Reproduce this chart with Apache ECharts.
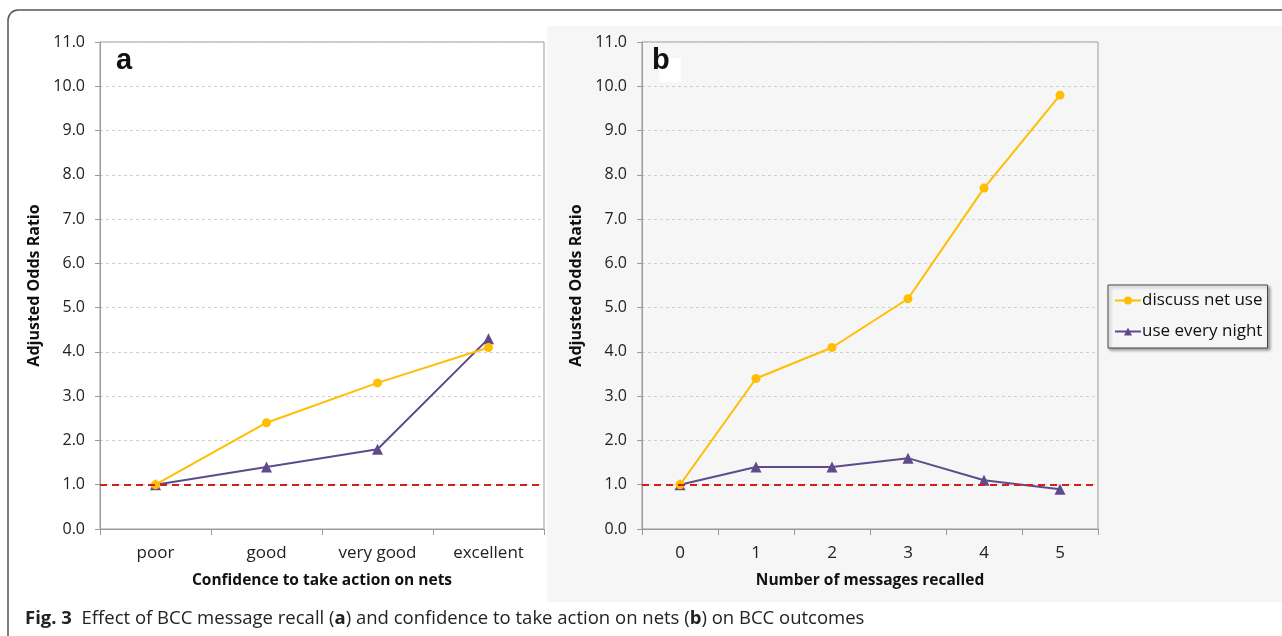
<!DOCTYPE html>
<html>
<head>
<meta charset="utf-8">
<script src="https://cdn.jsdelivr.net/npm/echarts@6/dist/echarts.min.js"></script>
<style>
  html, body { margin: 0; padding: 0; background: #fff; }
  #chart { width: 1282px; height: 636px; }
</style>
</head>
<body>
<div id="chart"></div>
<script>
  // panel a
  const confidenceCats = ['poor', 'good', 'very good', 'excellent'];
  const confDiscuss = [1.0, 2.4, 3.3, 4.1];
  const confUseNight = [1.0, 1.4, 1.8, 4.3];

  // panel b
  const messageCats = ['0', '1', '2', '3', '4', '5'];
  const msgDiscuss = [1.0, 3.4, 4.1, 5.2, 7.7, 9.8];
  const msgUseNight = [1.0, 1.4, 1.4, 1.6, 1.1, 0.9];

  const refLine = 1.0;
  const yMin = 0, yMax = 11, yStep = 1;

  const gold = '#ffbf00';
  const purple = '#5f4b8b';
  const font = '"Open Sans", "Noto Sans", sans-serif';

  const chart = echarts.init(document.getElementById('chart'));

  function xAxisFor(cats, idx, title) {
    return {
      type: 'category',
      gridIndex: idx,
      data: cats,
      boundaryGap: true,
      name: title,
      nameLocation: 'middle',
      nameGap: 44,
      nameTextStyle: { fontFamily: font, fontWeight: 'bold', fontSize: 15.5, color: '#111' },
      axisLine: { lineStyle: { color: '#9a9a9a', width: 1 } },
      axisTick: { show: true, alignWithLabel: false, length: 6, lineStyle: { color: '#9a9a9a' } },
      axisLabel: { fontFamily: font, fontSize: 17, color: '#222', margin: 16 },
      splitLine: { show: false }
    };
  }

  function yAxisFor(idx) {
    return {
      type: 'value',
      gridIndex: idx,
      min: yMin,
      max: yMax,
      interval: yStep,
      name: 'Adjusted Odds Ratio',
      nameLocation: 'middle',
      nameGap: 58,
      nameTextStyle: { fontFamily: font, fontWeight: 'bold', fontSize: 16, color: '#111' },
      axisLine: { show: true, lineStyle: { color: '#9a9a9a' } },
      axisTick: { show: true, length: 5, lineStyle: { color: '#9a9a9a' } },
      axisLabel: {
        fontFamily: font, fontSize: 16, color: '#222', margin: 15,
        formatter: v => v.toFixed(1)
      },
      splitLine: { show: true, lineStyle: { color: '#cfcfcf', type: [3, 3], width: 1 } }
    };
  }

  function seriesFor(idx, discuss, useNight, withRef) {
    const list = [{
      name: 'use every night',
      type: 'line',
      xAxisIndex: idx,
      yAxisIndex: idx,
      data: useNight,
      symbol: 'triangle',
      symbolSize: 11,
      lineStyle: { color: purple, width: 2 },
      itemStyle: { color: purple },
      z: 3,
      animation: false
    }, {
      name: 'discuss net use',
      type: 'line',
      xAxisIndex: idx,
      yAxisIndex: idx,
      data: discuss,
      symbol: 'circle',
      symbolSize: 9,
      lineStyle: { color: gold, width: 2 },
      itemStyle: { color: gold },
      z: 4,
      animation: false
    }];
    if (withRef) {
      list[0].markLine = {
        silent: true,
        symbol: 'none',
        label: { show: false },
        lineStyle: { color: '#d0201e', type: [7, 5], width: 2 },
        data: [{ yAxis: refLine }]
      };
    }
    return list;
  }

  chart.setOption({
    backgroundColor: '#fff',
    animation: false,
    textStyle: { fontFamily: font },
    graphic: [
      // outer frame
      { type: 'rect', shape: { x: 8, y: 10, width: 1300, height: 660, r: 10 },
        style: { fill: 'none', stroke: '#555', lineWidth: 1.5 }, z: -10 },
      // panel b background
      { type: 'rect', shape: { x: 547, y: 26, width: 740, height: 576 },
        style: { fill: '#f6f6f6' }, z: -9 },
      { type: 'text', left: 116, top: 46,
        style: { text: 'a', font: 'bold 29px "Liberation Sans", Arial, sans-serif', fill: '#111' }, z: 10 },
      { type: 'rect', shape: { x: 659, y: 58, width: 22, height: 24 },
        style: { fill: '#fff' }, z: 9 },
      { type: 'text', left: 652, top: 46,
        style: { text: 'b', font: 'bold 29px "Liberation Sans", Arial, sans-serif', fill: '#111' }, z: 10 },
      { type: 'text', left: 25, top: 609,
        style: {
          text: '{b|Fig. 3}  Effect of BCC message recall ({b|a}) and confidence to take action on nets ({b|b}) on BCC outcomes',
          font: '18.5px "Open Sans", sans-serif',
          fill: '#222',
          rich: {
            b: { fontWeight: 'bold', fontSize: 18.5, fontFamily: '"Open Sans", sans-serif', fill: '#222' }
          }
        }, z: 10 }
    ],
    legend: {
      data: ['discuss net use', 'use every night'],
      orient: 'vertical',
      left: 1108,
      top: 285,
      width: 158,
      itemWidth: 26,
      itemHeight: 10,
      itemGap: 14,
      padding: [7, 5, 8, 6],
      backgroundColor: '#f6f6f6',
      borderColor: '#444',
      borderWidth: 1,
      shadowColor: 'rgba(0,0,0,0.35)',
      shadowBlur: 3,
      shadowOffsetX: 2,
      shadowOffsetY: 2,
      textStyle: { fontFamily: font, fontSize: 17, color: '#111', padding: [0, 0, 0, -4] }
    },
    grid: [
      { left: 100, right: 738, top: 42, bottom: 107, show: true, borderColor: '#9a9a9a', borderWidth: 1, backgroundColor: '#fff' },
      { left: 642, right: 184, top: 42, bottom: 107, show: true, borderColor: '#9a9a9a', borderWidth: 1, backgroundColor: 'transparent' }
    ],
    xAxis: [
      xAxisFor(confidenceCats, 0, 'Confidence to take action on nets'),
      xAxisFor(messageCats, 1, 'Number of messages recalled')
    ],
    yAxis: [yAxisFor(0), yAxisFor(1)],
    series: [
      ...seriesFor(0, confDiscuss, confUseNight, true),
      ...seriesFor(1, msgDiscuss, msgUseNight, true)
    ]
  });
</script>
</body>
</html>
